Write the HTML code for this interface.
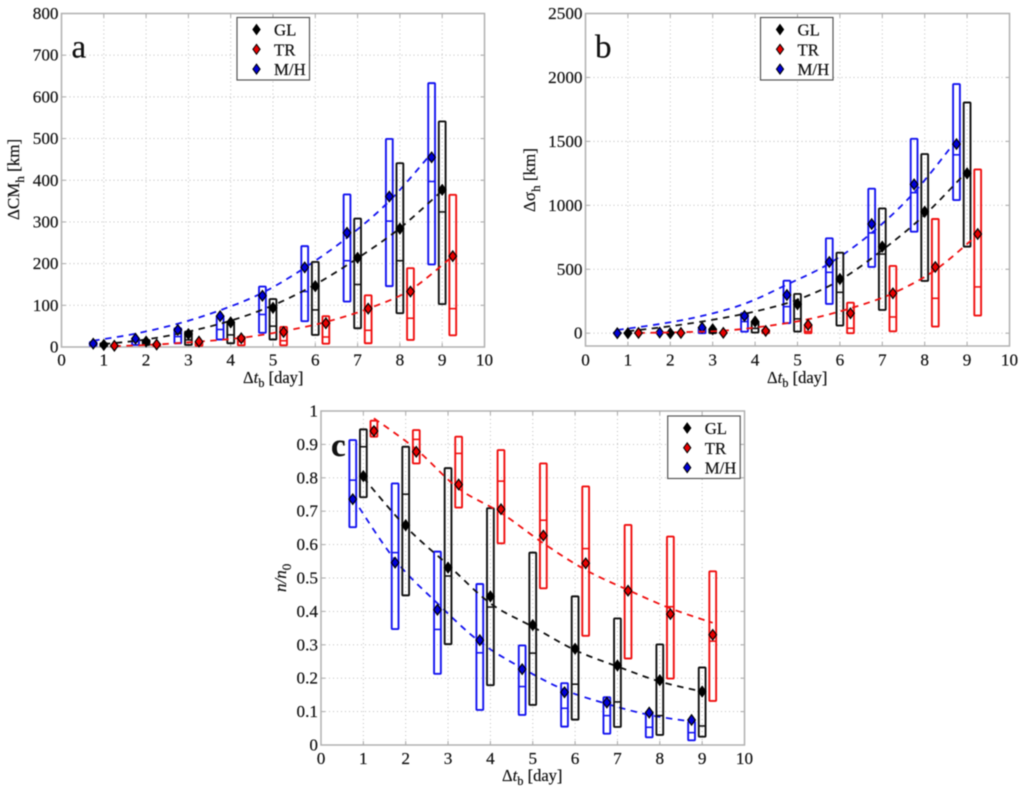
<!DOCTYPE html>
<html lang="en">
<head>
<meta charset="utf-8">
<title>Panels a, b, c: change with time difference</title>
<style>
html,body{margin:0;padding:0;background:#fff;}
svg{display:block;filter:blur(0.5px);}
text{font-family:"Liberation Serif",serif;fill:#111;stroke:#111;stroke-width:0.2px;}
</style>
</head>
<body>
<svg id="figure" xmlns="http://www.w3.org/2000/svg" width="1024" height="794" viewBox="0 0 1024 794">
  <rect x="0" y="0" width="1024" height="794" fill="#fff"/>
  <g id="panels"></g>

  <text x="71.5" y="57.5" font-size="33">a</text>
  <text x="595" y="57.5" font-size="33">b</text>
  <text x="331" y="456" font-size="33" font-weight="bold">c</text>

  <text x="243" y="383" font-size="16.5">Δ<tspan font-style="italic">t</tspan><tspan dy="4" font-size="12.5">b</tspan><tspan dy="-4"> [day]</tspan></text>
  <text x="767" y="383" font-size="16.5">Δ<tspan font-style="italic">t</tspan><tspan dy="4" font-size="12.5">b</tspan><tspan dy="-4"> [day]</tspan></text>
  <text x="502" y="781" font-size="16.5">Δ<tspan font-style="italic">t</tspan><tspan dy="4" font-size="12.5">b</tspan><tspan dy="-4"> [day]</tspan></text>

  <text transform="translate(19,220) rotate(-90)" font-size="17">ΔCM<tspan dy="5" font-size="13">h</tspan><tspan dy="-5"> [km]</tspan></text>
  <text transform="translate(535,212) rotate(-90)" font-size="17">Δσ<tspan dy="5" font-size="13">h</tspan><tspan dy="-5"> [km]</tspan></text>
  <text transform="translate(286,592) rotate(-90)" font-size="17"><tspan font-style="italic">n/n</tspan><tspan dy="5" font-size="13">0</tspan></text>
</svg>

<script>
// Shared category positions and tick labels
const dayMH = [0.75,1.75,2.75,3.75,4.75,5.75,6.75,7.75,8.75];
const dayGL = [1,2,3,4,5,6,7,8,9];
const dayTR = [1.25,2.25,3.25,4.25,5.25,6.25,7.25,8.25,9.25];
const xTickLabels = [0,1,2,3,4,5,6,7,8,9,10];
const legendLabels = ["GL","TR","M/H"];

// Panel a: delta CM_h [km]
const aYTicks = [0,100,200,300,400,500,600,700,800];
const aMHTop = [12,21,45,73,145,242,366,499,633];
const aMHBottom = [3,5,9,18,34,62,109,146,198];
const aMHMedian = [7,13,25,42,78,133,207,302,397];
const aMHMean = [8,20,41,74,123,191,274,361,455];
const aMHFit = [15,32,56,88,130,190,262,350,465];
const aGLTop = [9,17,37,61,115,204,308,441,541];
const aGLBottom = [2,5,5,9,18,29,45,81,103];
const aGLMedian = [5,10,17,29,50,89,150,207,324];
const aGLMean = [5,13,31,59,94,146,214,284,377];
const aGLFit = [7,18,37,63,100,150,213,285,375];
const aTRTop = [4,8,12,25,48,74,124,189,365];
const aTRBottom = [1,2,3,4,4,8,9,17,28];
const aTRMedian = [2,4,7,13,15,24,40,69,92];
const aTRMean = [3,6,13,21,36,57,92,133,218];
const aTRFit = [2,6,13,22,38,60,92,137,218];

// Panel b: delta sigma_h [km]
const bYTicks = [0,500,1000,1500,2000,2500];
const bMHTop = [6,10,38,156,411,742,1130,1520,1948];
const bMHBottom = [0,1,0,12,78,229,518,794,1041];
const bMHMedian = [3,4,18,91,208,476,784,1099,1395];
const bMHMean = [0,5,44,135,299,557,854,1164,1479];
const bMHFit = [25,72,135,230,380,545,785,1100,1510];
const bGLTop = [4,8,31,91,307,630,976,1401,1804];
const bGLBottom = [0,0,0,5,13,60,182,409,677];
const bGLMedian = [1,3,12,38,112,320,619,950,1240];
const bGLMean = [0,0,31,91,226,424,677,950,1250];
const bGLFit = [15,55,105,170,262,415,650,925,1265];
const bTRTop = [3,6,8,28,65,239,526,893,1281];
const bTRBottom = [0,0,0,0,0,0,15,52,138];
const bTRMedian = [1,2,3,8,13,39,127,273,362];
const bTRMean = [2,2,3,18,65,156,312,518,776];
const bTRFit = [2,8,20,55,109,195,312,494,770];

// Panel c: n/n0
const cYTicks = [0,0.1,0.2,0.3,0.4,0.5,0.6,0.7,0.8,0.9,1];
const cMHTop = [0.913,0.783,0.579,0.482,0.298,0.185,0.143,0.097,0.070];
const cMHBottom = [0.652,0.347,0.213,0.105,0.090,0.055,0.034,0.023,0.014];
const cMHMedian = [0.793,0.576,0.346,0.276,0.175,0.110,0.088,0.053,0.037];
const cMHMean = [0.736,0.546,0.405,0.314,0.227,0.158,0.127,0.097,0.075];
const cMHFit = [0.74,0.554,0.424,0.309,0.23,0.165,0.123,0.09,0.07];
const cGLTop = [0.945,0.893,0.829,0.709,0.576,0.445,0.379,0.301,0.232];
const cGLBottom = [0.742,0.448,0.302,0.179,0.120,0.076,0.054,0.030,0.025];
const cGLMedian = [0.893,0.751,0.506,0.413,0.275,0.182,0.129,0.088,0.057];
const cGLMean = [0.805,0.658,0.531,0.445,0.359,0.288,0.238,0.194,0.160];
const cGLFit = [0.80,0.654,0.539,0.424,0.354,0.284,0.235,0.19,0.16];
const cTRTop = [0.971,0.943,0.923,0.883,0.843,0.774,0.659,0.624,0.520];
const cTRBottom = [0.923,0.843,0.711,0.604,0.469,0.327,0.259,0.199,0.132];
const cTRMedian = [0.95,0.915,0.873,0.790,0.673,0.588,0.462,0.414,0.311];
const cTRMean = [0.940,0.878,0.780,0.706,0.627,0.544,0.462,0.392,0.330];
const cTRFit = [0.978,0.885,0.768,0.695,0.604,0.524,0.464,0.409,0.366];

const NS = "http://www.w3.org/2000/svg";
const root = document.getElementById("panels");
const COLORS = {GL:"#111111", TR:"#f01010", MH:"#1414f0"};
const FILLS = {GL:"#000000", TR:"#e80000", MH:"#0000d8"};

function make(parent, tag, attrs) {
  const el = document.createElementNS(NS, tag);
  for (const k in attrs) el.setAttribute(k, attrs[k]);
  parent.appendChild(el);
  return el;
}

function smoothPath(px, py) {
  let d = "M" + px[0].toFixed(1) + " " + py[0].toFixed(1);
  for (let i = 0; i < px.length - 1; i++) {
    const a = Math.max(i - 1, 0), b = Math.min(i + 2, px.length - 1);
    const c1x = px[i] + (px[i + 1] - px[a]) / 6, c1y = py[i] + (py[i + 1] - py[a]) / 6;
    const c2x = px[i + 1] - (px[b] - px[i]) / 6, c2y = py[i + 1] - (py[b] - py[i]) / 6;
    d += "C" + c1x.toFixed(1) + " " + c1y.toFixed(1) + " " + c2x.toFixed(1) + " " + c2y.toFixed(1) + " " + px[i + 1].toFixed(1) + " " + py[i + 1].toFixed(1);
  }
  return d;
}

function drawAxes(g, p, sx, sy) {
  const [l, t, r, b] = p.box;
  for (const v of p.yTicks) {
    const y = sy(v);
    if (v > p.yMin && v < p.yMax) {
      const grid = make(g, "line", {x1:l, x2:r, y1:y, y2:y, stroke:"#b8b8b8", "stroke-width":0.9, "stroke-dasharray":"1 3"});
      
      
    }
    const label = make(g, "text", {x:l - 3, y:y + 5.5, "font-size":17.2, "text-anchor":"end"});
    label.textContent = String(v);
    
    
    const tick = make(g, "line", {x1:l, x2:l + 4, y1:y, y2:y, stroke:"#a8a8a8", "stroke-width":1});
    
    
    const tickR = make(g, "line", {x1:r - 4, x2:r, y1:y, y2:y, stroke:"#a8a8a8", "stroke-width":1});
    
    
  }
  for (const v of xTickLabels) {
    const x = sx(v);
    if (v > 0 && v < 10) {
      const grid = make(g, "line", {x1:x, x2:x, y1:t, y2:b, stroke:"#b8b8b8", "stroke-width":0.9, "stroke-dasharray":"1 3"});
      
      
    }
    const label = make(g, "text", {x:x, y:p.xLabelY, "font-size":17.2, "text-anchor":"middle"});
    label.textContent = String(v);
    
    
    const tick = make(g, "line", {x1:x, x2:x, y1:b - 4, y2:b, stroke:"#a8a8a8", "stroke-width":1});
    
    
    const tickT = make(g, "line", {x1:x, x2:x, y1:t, y2:t + 4, stroke:"#a8a8a8", "stroke-width":1});
    
    
  }
  const frame = make(g, "rect", {x:l, y:t, width:r - l, height:b - t, fill:"none", stroke:"#b0b0b0", "stroke-width":1.5});
  
  
}

function drawSeries(g, s, sx, sy) {
  const color = COLORS[s.key];
  const BOX_W = 6.8;
  const fitPath = make(g, "path", {
    d: smoothPath(s.x.map(sx), s.fit.map(sy)),
    fill:"none", stroke:color, "stroke-width":1.8, "stroke-dasharray":"6.5 5.5"
  });
  
  
  s.x.forEach(function (xv, i) {
    const cx = sx(xv);
    const yTop = sy(s.top[i]), yBot = sy(s.bottom[i]), yMed = sy(s.median[i]);
    const box = make(g, "rect", {
      x:cx - BOX_W / 2, y:yTop, width:BOX_W, height:Math.max(yBot - yTop, 0.5), rx:0.8,
      fill:"none", stroke:color, "stroke-width":1.9
    });
    
    
    const med = make(g, "line", {x1:cx - BOX_W / 2, x2:cx + BOX_W / 2, y1:yMed, y2:yMed, stroke:color, "stroke-width":1.6});
    
    
  });
  s.x.forEach(function (xv, i) {
    const cx = sx(xv), cy = sy(s.mean[i]);
    const mark = make(g, "polygon", {
      points:[cx, cy - 5.2, cx + 3.8, cy, cx, cy + 5.2, cx - 3.8, cy].join(" "),
      fill:FILLS[s.key], stroke:"#000", "stroke-width":1.2
    });
    
    
  });
}

function drawLegend(g, lx, ly) {
  const w = 72.5, h = 62.5;
  const box = make(g, "rect", {x:lx, y:ly, width:w, height:h, fill:"#fff", stroke:"#555", "stroke-width":1.2});
  
  
  const keys = ["GL","TR","MH"];
  keys.forEach(function (k, i) {
    const y = ly + 12 + i * 19.8, x = lx + 19.5;
    const m = make(g, "polygon", {
      points:[x, y - 5, x + 3.6, y, x, y + 5, x - 3.6, y].join(" "),
      fill:FILLS[k], stroke:"#000", "stroke-width":1
    });
    
    
    const t = make(g, "text", {x:lx + 37, y:y + 6, "font-size":16.8});
    t.textContent = legendLabels[i];
    
    
  });
}

function drawPanel(p) {
  const g = make(root, "g", {});
  
  
  const [l, t, r, b] = p.box;
  const sx = function (v) { return l + (v / 10) * (r - l); };
  const sy = function (v) { return b - ((v - p.yMin) / (p.yMax - p.yMin)) * (b - t); };
  drawAxes(g, p, sx, sy);
  p.series.forEach(function (s) { drawSeries(g, s, sx, sy); });
  drawLegend(g, p.legend[0], p.legend[1]);
}

drawPanel({
  name:"panel-a", box:[61.5,13.5,484.5,347], yMin:0, yMax:800, yTicks:aYTicks, xLabelY:365.5, legend:[237,17.5],
  series:[
    {key:"MH", x:dayMH, top:aMHTop, bottom:aMHBottom, median:aMHMedian, mean:aMHMean, fit:aMHFit},
    {key:"GL", x:dayGL, top:aGLTop, bottom:aGLBottom, median:aGLMedian, mean:aGLMean, fit:aGLFit},
    {key:"TR", x:dayTR, top:aTRTop, bottom:aTRBottom, median:aTRMedian, mean:aTRMean, fit:aTRFit}
  ]
});
drawPanel({
  name:"panel-b", box:[585.5,13.5,1009.5,346], yMin:-100, yMax:2500, yTicks:bYTicks, xLabelY:365.5, legend:[760.5,17.5],
  series:[
    {key:"MH", x:dayMH, top:bMHTop, bottom:bMHBottom, median:bMHMedian, mean:bMHMean, fit:bMHFit},
    {key:"GL", x:dayGL, top:bGLTop, bottom:bGLBottom, median:bGLMedian, mean:bGLMean, fit:bGLFit},
    {key:"TR", x:dayTR, top:bTRTop, bottom:bTRBottom, median:bTRMedian, mean:bTRMean, fit:bTRFit}
  ]
});
drawPanel({
  name:"panel-c", box:[321,411,744.5,745], yMin:0, yMax:1, yTicks:cYTicks, xLabelY:764, legend:[667.7,416],
  series:[
    {key:"MH", x:dayMH, top:cMHTop, bottom:cMHBottom, median:cMHMedian, mean:cMHMean, fit:cMHFit},
    {key:"GL", x:dayGL, top:cGLTop, bottom:cGLBottom, median:cGLMedian, mean:cGLMean, fit:cGLFit},
    {key:"TR", x:dayTR, top:cTRTop, bottom:cTRBottom, median:cTRMedian, mean:cTRMean, fit:cTRFit}
  ]
});
</script>
</body>
</html>
